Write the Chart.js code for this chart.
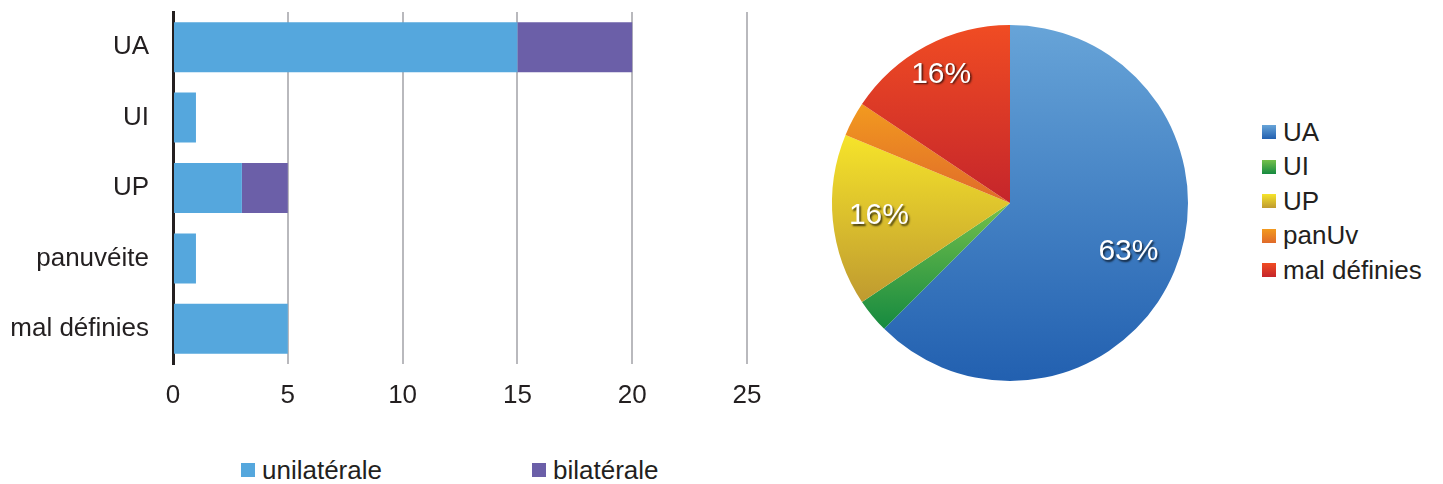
<!DOCTYPE html>
<html>
<head>
<meta charset="utf-8">
<script src="https://cdn.jsdelivr.net/npm/chart.js@4/dist/chart.umd.min.js"></script>
<style>
  body { margin: 0; width: 1443px; height: 484px; background: #fff; position: relative; overflow: hidden;
         font-family: "Liberation Sans", Arial, sans-serif; color: #231f20; }
  #barBox { position: absolute; left: 0; top: 0; width: 790px; height: 420px; }
  #pieBox { position: absolute; left: 822px; top: 15px; width: 376px; height: 376px; }
  .legend { position: absolute; font-size: 26px; }
  .legend .item { display: flex; align-items: center; }
  .legend .box { width: 14px; height: 14px; margin-right: 7px; }
  #barLegend { left: 241px; top: 455px; display: flex; gap: 150px; line-height: 30px; }
  #pieLegend { left: 1262px; top: 115px; }
  #pieLegend .item { height: 34.5px; }
</style>
</head>
<body>
<div id="barBox"><canvas id="barChart"></canvas></div>
<div id="pieBox"><canvas id="pieChart"></canvas></div>
<div id="barLegend" class="legend"></div>
<div id="pieLegend" class="legend"></div>
<script>
// bar chart data
const categories = ['UA', 'UI', 'UP', 'panuvéite', 'mal définies']
const unilaterale = [15, 1, 3, 1, 5]
const bilaterale = [5, 0, 2, 0, 0]
const xTicks = [0, 5, 10, 15, 20, 25]

// pie chart data
const pieLabelsText = ['UA', 'UI', 'UP', 'panUv', 'mal définies']
const pieValues = [20, 1, 5, 1, 5]

const textColor = '#231f20'
const blue = '#55a7dd'
const purple = '#6b5fa8'
const pieTop = ['#67a4d8', '#74c04b', '#f6e42a', '#f29a1f', '#f04c23']
const pieBottom = ['#2260b0', '#168a40', '#bf9a30', '#e06a2a', '#c5252b']
const labelRadius = [0.72, 0, 0.74, 0, 0.82]

const barChart = new Chart(document.getElementById('barChart'), {
  type: 'bar',
  data: {
    labels: categories,
    datasets: [
      { label: 'unilatérale', data: unilaterale, backgroundColor: blue, barPercentage: 0.71, categoryPercentage: 1 },
      { label: 'bilatérale', data: bilaterale, backgroundColor: purple, barPercentage: 0.71, categoryPercentage: 1 }
    ]
  },
  options: {
    indexAxis: 'y',
    animation: false,
    responsive: true,
    maintainAspectRatio: false,
    layout: { padding: { top: 12, right: 43, left: 0, bottom: 0 } },
    plugins: { legend: { display: false }, tooltip: { enabled: false } },
    scales: {
      x: {
        stacked: true,
        min: xTicks[0],
        max: xTicks[xTicks.length - 1],
        ticks: { stepSize: 5, color: textColor, font: { size: 26, family: 'Liberation Sans' }, padding: 16 },
        grid: {
          color: ctx => (ctx.tick && ctx.tick.value === 0) ? 'rgba(0,0,0,0)' : '#b9b9bd',
          lineWidth: 2,
          drawTicks: false
        },
        border: { display: false },
        afterFit: s => { s.height = 56; s.paddingLeft = 0; s.paddingRight = 0 }
      },
      y: {
        stacked: true,
        grid: { display: false, drawTicks: false },
        border: { color: textColor, width: 3 },
        ticks: { color: textColor, font: { size: 26, family: 'Liberation Sans' }, padding: 24 },
        afterFit: s => { s.width = 173; s.paddingTop = 0; s.paddingBottom = 0 }
      }
    }
  }
})

const pieTotal = pieValues.reduce((a, b) => a + b, 0)

function sliceGradient(context) {
  const chart = context.chart
  const area = chart.chartArea
  const i = context.dataIndex
  if (!area) return pieTop[i]
  let before = 0
  for (let j = 0; j < i; j++) before += pieValues[j]
  const a0 = -Math.PI / 2 + before / pieTotal * 2 * Math.PI
  const a1 = a0 + pieValues[i] / pieTotal * 2 * Math.PI
  const cx = (area.left + area.right) / 2
  const cy = (area.top + area.bottom) / 2
  const r = Math.min(area.width, area.height) / 2
  const ys = [cy, cy + r * Math.sin(a0), cy + r * Math.sin(a1)]
  for (const t of [-Math.PI / 2, Math.PI / 2, 3 * Math.PI / 2]) {
    if (t > a0 && t < a1) ys.push(cy + r * Math.sin(t))
  }
  const g = chart.ctx.createLinearGradient(0, Math.min(...ys), 0, Math.max(...ys))
  g.addColorStop(0, pieTop[i])
  g.addColorStop(1, pieBottom[i])
  return g
}

// percent labels inside the big slices
const percentLabels = {
  id: 'percentLabels',
  afterDatasetsDraw(chart) {
    const ctx = chart.ctx
    const meta = chart.getDatasetMeta(0)
    meta.data.forEach((arc, i) => {
      const pct = pieValues[i] / pieTotal * 100
      if (pct < 10) return
      const mid = (arc.startAngle + arc.endAngle) / 2
      const r = arc.outerRadius * labelRadius[i]
      const x = arc.x + Math.cos(mid) * r
      const y = arc.y + Math.sin(mid) * r
      ctx.save()
      ctx.font = '30px "Liberation Sans", Arial, sans-serif'
      ctx.textAlign = 'center'
      ctx.textBaseline = 'middle'
      ctx.shadowColor = 'rgba(0,0,0,0.7)'
      ctx.shadowOffsetX = 1.5
      ctx.shadowOffsetY = 1.5
      ctx.shadowBlur = 2
      ctx.fillStyle = '#fff'
      ctx.fillText(Math.round(pct) + '%', x, y)
      ctx.restore()
    })
  }
}

const pieChart = new Chart(document.getElementById('pieChart'), {
  type: 'pie',
  data: {
    labels: pieLabelsText,
    datasets: [{ data: pieValues, backgroundColor: sliceGradient, borderWidth: 0 }]
  },
  options: {
    animation: false,
    responsive: true,
    maintainAspectRatio: false,
    layout: { padding: 10 },
    plugins: { legend: { display: false }, tooltip: { enabled: false } }
  },
  plugins: [percentLabels]
})

// html legends
const barLegend = document.getElementById('barLegend')
barChart.data.datasets.forEach(ds => {
  const item = document.createElement('div')
  item.className = 'item'
  item.innerHTML = '<span class="box" style="background:' + ds.backgroundColor + '"></span><span>' + ds.label + '</span>'
  barLegend.appendChild(item)
})

const pieLegend = document.getElementById('pieLegend')
pieLabelsText.forEach((name, i) => {
  const item = document.createElement('div')
  item.className = 'item'
  item.innerHTML = '<span class="box" style="background:linear-gradient(' + pieTop[i] + ',' + pieBottom[i] + ')"></span><span>' + name + '</span>'
  pieLegend.appendChild(item)
})
</script>
</body>
</html>
